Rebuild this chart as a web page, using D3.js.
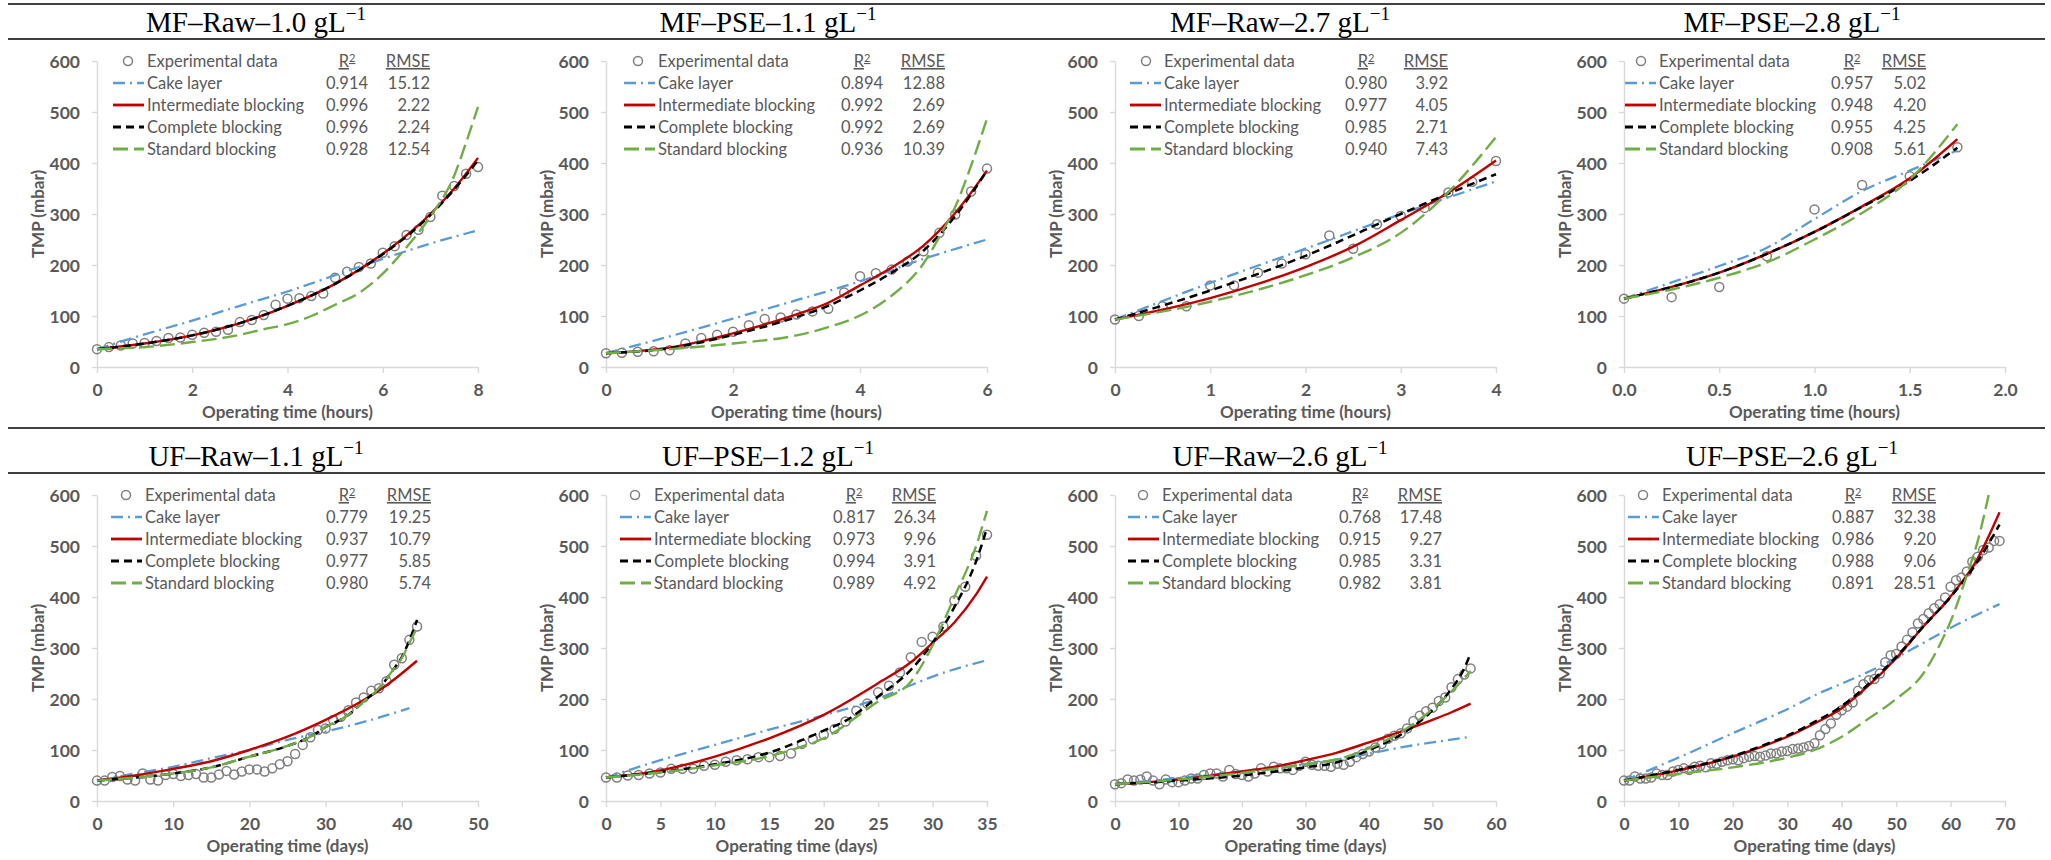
<!DOCTYPE html>
<html>
<head>
<meta charset="utf-8">
<script src="https://cdn.jsdelivr.net/npm/d3@7/dist/d3.min.js"></script>
<style>
  body { margin: 0; background: #fff; }
  svg text { font-family: Lato, "Open Sans", sans-serif; }
</style>
</head>
<body>
<svg id="chart" width="2051" height="860"></svg>
<script>
// ---- data: [time, TMP (mbar)] ----
// MF-Raw-1.0 (hours)
var mfRaw10Exp = [[0,35],[0.25,39],[0.5,42],[0.75,46],[1,47],[1.25,51],[1.5,57],[1.75,58],[2,63],[2.25,67],[2.5,69],[2.75,73],[3,88],[3.25,92],[3.5,102],[3.75,122],[4,134],[4.25,135],[4.5,139],[4.75,144],[5,175],[5.25,187],[5.5,196],[5.75,203],[6,224],[6.25,237],[6.5,259],[6.75,269],[7,294],[7.25,336],[7.5,355],[7.75,379],[8,392]];
var mfRaw10Cake = [[0,35],[1,64],[2,91],[3,120],[4,148],[5,180],[6,212],[7,242],[8,268]];
var mfRaw10Int = [[0,35],[1,46],[2,62],[3,86],[4,120],[5,163],[6,222],[6.5,258],[7,300],[7.5,350],[8,410]];
var mfRaw10Comp = [[0,35],[1,46],[2,62],[3,86],[4,120],[5,163],[6,221],[6.5,256],[7,298],[7.5,348],[8,405]];
var mfRaw10Std = [[0,35],[1,39],[2,49],[3,63],[3.5,74],[4,84],[4.5,100],[5,122],[5.5,145],[6,183],[6.5,235],[7,295],[7.5,375],[7.75,440],[8,510]];
var mfRaw10R2 = ["0.914","0.996","0.996","0.928"];
var mfRaw10Rmse = ["15.12","2.22","2.24","12.54"];

// MF-PSE-1.1 (hours)
var mfPse11Exp = [[0,27],[0.25,28],[0.5,30],[0.75,31],[1,33],[1.25,46],[1.5,57],[1.75,63],[2,69],[2.25,82],[2.5,94],[2.75,97],[3,103],[3.25,109],[3.5,114],[3.75,146],[4,178],[4.25,184],[4.5,191],[4.75,207],[5,227],[5.25,263],[5.5,299],[5.75,344],[6,389]];
var mfPse11Cake = [[0,27],[1,60],[2,95],[3,131],[4,168],[5,212],[6,250]];
var mfPse11Int = [[0,27],[1,38],[2,66],[3,103],[3.5,126],[4,160],[4.5,195],[5,238],[5.5,302],[6,385]];
var mfPse11Comp = [[0,27],[1,37],[2,63],[3,98],[3.5,120],[4,150],[4.5,185],[5,228],[5.5,296],[6,385]];
var mfPse11Std = [[0,27],[1,35],[2,46],[3,62],[3.5,78],[4,101],[4.5,140],[5,203],[5.25,255],[5.5,314],[5.75,395],[6,487]];
var mfPse11R2 = ["0.894","0.992","0.992","0.936"];
var mfPse11Rmse = ["12.88","2.69","2.69","10.39"];

// MF-Raw-2.7 (hours)
var mfRaw27Exp = [[0,93],[0.25,100],[0.5,119],[0.75,119],[1,160],[1.25,160],[1.5,185],[1.75,203],[2,221],[2.25,258],[2.5,232],[2.75,280],[3,296],[3.25,312],[3.5,342],[3.75,363],[4,404]];
var mfRaw27Cake = [[0,93],[1,165],[2,232],[3,300],[4,364]];
var mfRaw27Int = [[0,93],[1,135],[1.5,163],[2,196],[2.5,236],[3,288],[3.5,342],[4,405]];
var mfRaw27Comp = [[0,93],[1,150],[2,218],[3,300],[3.5,340],[4,378]];
var mfRaw27Std = [[0,93],[1,128],[2,180],[2.5,215],[3,263],[3.5,343],[4,451]];
var mfRaw27R2 = ["0.980","0.977","0.985","0.940"];
var mfRaw27Rmse = ["3.92","4.05","2.71","7.43"];

// MF-PSE-2.8 (hours)
var mfPse28Exp = [[0,134],[0.25,137],[0.5,157],[0.75,217],[1,309],[1.25,357],[1.5,374],[1.75,431]];
var mfPse28Cake = [[0,134],[0.25,166],[0.5,198],[0.75,234],[1,290],[1.25,345],[1.5,385],[1.75,425]];
var mfPse28Int = [[0,134],[0.25,157],[0.5,185],[0.75,222],[1,265],[1.25,315],[1.5,370],[1.75,447]];
var mfPse28Comp = [[0,134],[0.25,157],[0.5,185],[0.75,222],[1,265],[1.25,314],[1.5,365],[1.75,430]];
var mfPse28Std = [[0,134],[0.25,152],[0.5,175],[0.75,205],[1,250],[1.25,302],[1.5,368],[1.75,476]];
var mfPse28R2 = ["0.957","0.948","0.955","0.908"];
var mfPse28Rmse = ["5.02","4.20","4.25","5.61"];

// UF-Raw-1.1 (days)
var ufRaw11Exp = [[0,40],[1,40],[2,47],[3,49],[4,42],[5,40],[6,54],[7,42],[8,40],[9,51],[10,53],[11,49],[12,51],[13,53],[14,46],[15,46],[16,52],[17,59],[18,52],[19,58],[20,62],[21,62],[22,58],[23,64],[24,72],[25,78],[26,92],[27,110],[28,125],[29,139],[30,142],[31,159],[32,165],[33,178],[34,193],[35,203],[36,216],[37,221],[38,235],[39,267],[40,280],[41,316],[42,342]];
var ufRaw11Cake = [[0,40],[5,54],[10,67],[15,84],[20,100],[25,120],[30,136],[35,155],[41,182]];
var ufRaw11Int = [[0,40],[5,50],[10,63],[15,78],[20,100],[25,126],[30,159],[35,198],[38,227],[42,275]];
var ufRaw11Comp = [[0,40],[5,46],[10,54],[15,66],[20,87],[25,108],[28,126],[30,145],[33,169],[35,195],[37,221],[39,260],[40,282],[41,315],[42,355]];
var ufRaw11Std = [[0,40],[5,46],[10,54],[15,66],[20,87],[25,108],[28,126],[30,145],[33,169],[35,195],[37,221],[39,260],[40,280],[41,310],[42,340]];
var ufRaw11R2 = ["0.779","0.937","0.977","0.980"];
var ufRaw11Rmse = ["19.25","10.79","5.85","5.74"];

// UF-PSE-1.2 (days)
var ufPse12Exp = [[0,46],[1,46],[2,50],[3,51],[4,54],[5,56],[6,63],[7,63],[8,63],[9,69],[10,71],[11,77],[12,80],[13,82],[14,86],[15,86],[16,88],[17,93],[18,112],[19,121],[20,130],[21,141],[22,156],[23,177],[24,191],[25,213],[26,226],[27,252],[28,282],[29,312],[30,322],[31,342],[32,393],[33,420],[34,481],[35,522]];
var ufPse12Cake = [[0,46],[5,80],[10,110],[15,140],[20,168],[25,201],[28,227],[30,244],[35,276]];
var ufPse12Int = [[0,46],[5,60],[10,87],[15,123],[20,169],[25,231],[28,272],[30,310],[32,350],[34,405],[35,440]];
var ufPse12Comp = [[0,46],[5,57],[10,72],[15,95],[20,138],[22,157],[25,205],[28,257],[30,310],[32,380],[34,470],[35,535]];
var ufPse12Std = [[0,46],[5,56],[10,70],[15,88],[17,100],[20,123],[25,195],[28,234],[30,305],[32,400],[34,500],[35,569]];
var ufPse12R2 = ["0.817","0.973","0.994","0.989"];
var ufPse12Rmse = ["26.34","9.96","3.91","4.92"];

// UF-Raw-2.6 (days)
var ufRaw26Exp = [[0,33],[1,35],[2,42],[3,40],[4,42],[5,48],[6,40],[7,33],[8,42],[9,37],[10,37],[11,40],[12,44],[13,44],[14,51],[15,54],[16,54],[17,48],[18,61],[19,53],[20,51],[21,48],[22,54],[23,64],[24,58],[25,67],[26,64],[27,64],[28,61],[29,69],[30,77],[31,71],[32,69],[33,69],[34,67],[35,73],[36,71],[37,77],[38,86],[39,92],[40,97],[41,105],[42,112],[43,122],[44,128],[45,133],[46,142],[47,157],[48,167],[49,176],[50,183],[51,196],[52,203],[53,223],[54,239],[55,248],[56,260]];
var ufRaw26Cake = [[0,33],[10,45],[20,58],[30,72],[40,93],[45,105],[50,115],[56,126]];
var ufRaw26Int = [[0,33],[10,42],[20,58],[25,67],[30,80],[35,95],[40,115],[45,136],[50,159],[53,174],[56,191]];
var ufRaw26Comp = [[0,33],[10,40],[20,50],[30,66],[35,76],[40,100],[45,130],[50,178],[53,220],[55,260],[56,290]];
var ufRaw26Std = [[0,33],[10,42],[20,55],[30,72],[35,82],[40,103],[45,135],[50,180],[53,215],[56,255]];
var ufRaw26R2 = ["0.768","0.915","0.985","0.982"];
var ufRaw26Rmse = ["17.48","9.27","3.31","3.81"];

// UF-PSE-2.6 (days)
var ufPse26Exp = [[0,40],[1,40],[2,48],[3,44],[4,44],[5,46],[6,54],[7,51],[8,51],[9,58],[10,61],[11,64],[12,61],[13,67],[14,69],[15,66],[16,74],[17,73],[18,77],[19,80],[20,82],[21,80],[22,84],[23,87],[24,88],[25,87],[26,89],[27,93],[28,93],[29,97],[30,98],[31,102],[32,103],[33,105],[34,108],[35,113],[36,129],[37,141],[38,152],[39,169],[40,178],[41,185],[42,193],[43,216],[44,229],[45,237],[46,239],[47,250],[48,272],[49,286],[50,288],[51,303],[52,316],[53,331],[54,348],[55,357],[56,368],[57,378],[58,386],[59,399],[60,420],[61,433],[62,438],[63,450],[64,469],[65,479],[66,492],[67,497],[68,510],[69,510]];
var ufPse26Cake = [[0,40],[10,85],[20,133],[30,180],[36,212],[40,230],[47,264],[55,310],[61,345],[69,386]];
var ufPse26Int = [[0,40],[10,60],[20,87],[25,105],[30,126],[35,152],[40,182],[45,227],[50,280],[55,342],[60,401],[65,476],[69,566]];
var ufPse26Comp = [[0,40],[10,61],[20,88],[25,107],[30,128],[35,155],[40,186],[45,230],[50,282],[55,342],[60,400],[65,470],[69,542]];
var ufPse26Std = [[0,40],[10,53],[20,66],[30,85],[35,100],[40,126],[45,162],[50,200],[55,250],[58,306],[60,352],[63,443],[65,510],[67,600]];
var ufPse26R2 = ["0.887","0.986","0.988","0.891"];
var ufPse26Rmse = ["32.38","9.20","9.06","28.51"];

var modelNames = ["Cake layer", "Intermediate blocking", "Complete blocking", "Standard blocking"];
var yTicks = [0, 100, 200, 300, 400, 500, 600];

var panels = [
  { name: "MF\u2013Raw\u20131.0 gL", exp: mfRaw10Exp, fits: [mfRaw10Cake, mfRaw10Int, mfRaw10Comp, mfRaw10Std], r2: mfRaw10R2, rmse: mfRaw10Rmse, xMax: 8, xTicks: [0,2,4,6,8], unit: "hours", fmt: "d", leg: [31, 50, 250, 333] },
  { name: "MF\u2013PSE\u20131.1 gL", exp: mfPse11Exp, fits: [mfPse11Cake, mfPse11Int, mfPse11Comp, mfPse11Std], r2: mfPse11R2, rmse: mfPse11Rmse, xMax: 6, xTicks: [0,2,4,6], unit: "hours", fmt: "d", leg: [32, 52, 256, 339] },
  { name: "MF\u2013Raw\u20132.7 gL", exp: mfRaw27Exp, fits: [mfRaw27Cake, mfRaw27Int, mfRaw27Comp, mfRaw27Std], r2: mfRaw27R2, rmse: mfRaw27Rmse, xMax: 4, xTicks: [0,1,2,3,4], unit: "hours", fmt: "d", leg: [31, 49, 251, 333] },
  { name: "MF\u2013PSE\u20132.8 gL", exp: mfPse28Exp, fits: [mfPse28Cake, mfPse28Int, mfPse28Comp, mfPse28Std], r2: mfPse28R2, rmse: mfPse28Rmse, xMax: 2, xTicks: [0,0.5,1,1.5,2], unit: "hours", fmt: ".1f", leg: [17, 35, 228, 302] },
  { name: "UF\u2013Raw\u20131.1 gL", exp: ufRaw11Exp, fits: [ufRaw11Cake, ufRaw11Int, ufRaw11Comp, ufRaw11Std], r2: ufRaw11R2, rmse: ufRaw11Rmse, xMax: 50, xTicks: [0,10,20,30,40,50], unit: "days", fmt: "d", leg: [29, 48, 250, 334] },
  { name: "UF\u2013PSE\u20131.2 gL", exp: ufPse12Exp, fits: [ufPse12Cake, ufPse12Int, ufPse12Comp, ufPse12Std], r2: ufPse12R2, rmse: ufPse12Rmse, xMax: 35, xTicks: [0,5,10,15,20,25,30,35], unit: "days", fmt: "d", leg: [29, 48, 248, 330] },
  { name: "UF\u2013Raw\u20132.6 gL", exp: ufRaw26Exp, fits: [ufRaw26Cake, ufRaw26Int, ufRaw26Comp, ufRaw26Std], r2: ufRaw26R2, rmse: ufRaw26Rmse, xMax: 60, xTicks: [0,10,20,30,40,50,60], unit: "days", fmt: "d", leg: [28, 47, 245, 327] },
  { name: "UF\u2013PSE\u20132.6 gL", exp: ufPse26Exp, fits: [ufPse26Cake, ufPse26Int, ufPse26Comp, ufPse26Std], r2: ufPse26R2, rmse: ufPse26Rmse, xMax: 70, xTicks: [0,10,20,30,40,50,60,70], unit: "days", fmt: "d", leg: [19, 38, 229, 312] }
];

// line styles for the four models
var styles = [
  { color: "#5B9BD5", dash: "12,5,2,5", width: 2.3 },
  { color: "#C00000", dash: null, width: 2.4 },
  { color: "#000000", dash: "8,5", width: 2.5 },
  { color: "#70AD47", dash: "15,6", width: 2.4 }
];

var svg = d3.select("#chart");
var gray = "#595959";

// horizontal rules of the table layout
[4, 39, 428, 473].forEach(function (y) {
  svg.append("line").attr("x1", 8).attr("x2", 2045).attr("y1", y).attr("y2", y)
    .attr("stroke", "#000").attr("stroke-width", 1.5);
});

var plotW = 381;

panels.forEach(function (p, i) {
  var col = i % 4, row = Math.floor(i / 4);
  var left = 97 + 509 * col;
  var yTop = row === 0 ? 61 : 495;
  var yBot = row === 0 ? 367 : 801;

  // title
  var title = svg.append("text")
    .attr("x", 256 + 512 * col)
    .attr("y", row === 0 ? 32 : 466)
    .attr("text-anchor", "middle")
    .style("font-family", "'Liberation Serif', 'Times New Roman', serif")
    .style("font-size", "29px")
    .attr("fill", "#000");
  title.append("tspan").text(p.name);
  title.append("tspan").attr("dy", -12).style("font-size", "19px").text("\u22121");

  var x = d3.scaleLinear().domain([0, p.xMax]).range([left, left + plotW]);
  var y = d3.scaleLinear().domain([0, 600]).range([yBot, yTop]);

  var g = svg.append("g");

  // axes
  var xAxis = g.append("g").attr("transform", "translate(0," + yBot + ")")
    .call(d3.axisBottom(x).tickValues(p.xTicks).tickSizeInner(6).tickSizeOuter(0)
      .tickFormat(d3.format(p.fmt)));
  var yAxis = g.append("g").attr("transform", "translate(" + left + ",0)")
    .call(d3.axisLeft(y).tickValues(yTicks).tickSizeInner(5).tickSizeOuter(0));

  [xAxis, yAxis].forEach(function (a) {
    a.select(".domain").attr("stroke", "#d9d9d9").attr("stroke-width", 1.4);
    a.selectAll(".tick line").attr("stroke", "#d9d9d9").attr("stroke-width", 1.4);
    a.selectAll("text").attr("fill", gray).style("font-size", "17.5px").style("font-weight", "bold");
  });
  xAxis.selectAll("text").attr("y", 23).attr("dy", "0.36em");
  yAxis.selectAll("text").attr("x", -17).attr("dy", "0.36em");

  // axis titles
  g.append("text").attr("x", left + plotW / 2).attr("y", yBot + 45).attr("dy", "0.36em")
    .attr("text-anchor", "middle").attr("fill", gray)
    .style("font-size", "17px").style("font-weight", "bold")
    .text("Operating time (" + p.unit + ")");
  g.append("text").attr("transform", "translate(" + (left - 59) + "," + ((yTop + yBot) / 2) + ") rotate(-90)")
    .attr("dy", "0.36em").attr("text-anchor", "middle").attr("fill", gray)
    .style("font-size", "17px").style("font-weight", "bold")
    .text("TMP (mbar)");

  // experimental points
  g.selectAll(".pt").data(p.exp).enter().append("circle")
    .attr("cx", function (d) { return x(d[0]); })
    .attr("cy", function (d) { return y(d[1]); })
    .attr("r", 4.5)
    .attr("fill", "none")
    .attr("stroke", "#7f7f7f")
    .attr("stroke-width", 1.5);

  // model curves
  var line = d3.line()
    .x(function (d) { return x(d[0]); })
    .y(function (d) { return y(d[1]); })
    .curve(d3.curveMonotoneX);
  p.fits.forEach(function (f, k) {
    g.append("path").datum(f).attr("d", line)
      .attr("fill", "none")
      .attr("stroke", styles[k].color)
      .attr("stroke-width", styles[k].width)
      .attr("stroke-dasharray", styles[k].dash);
  });

  // legend
  var mx = left + p.leg[0], tx = left + p.leg[1], r2x = left + p.leg[2], rmx = left + p.leg[3];
  var leg = g.append("g").style("font-size", "16.5px").attr("fill", gray);
  leg.append("circle").attr("cx", mx).attr("cy", yTop).attr("r", 4.5)
    .attr("fill", "none").attr("stroke", "#7f7f7f").attr("stroke-width", 1.5);
  leg.append("text").attr("x", tx).attr("y", yTop).attr("dy", "0.36em").text("Experimental data");
  var rh = leg.append("text").attr("x", r2x).attr("y", yTop).attr("dy", "0.36em")
    .attr("text-anchor", "middle").style("text-decoration", "underline");
  rh.append("tspan").text("R");
  rh.append("tspan").attr("dy", "-0.45em").style("font-size", "11px").text("2");
  leg.append("text").attr("x", rmx).attr("y", yTop).attr("dy", "0.36em")
    .attr("text-anchor", "end").style("text-decoration", "underline").text("RMSE");

  modelNames.forEach(function (nm, k) {
    var ly = yTop + 22 * (k + 1);
    leg.append("line").attr("x1", tx - 34).attr("x2", tx - 3).attr("y1", ly).attr("y2", ly)
      .attr("stroke", styles[k].color).attr("stroke-width", styles[k].width + 0.4)
      .attr("stroke-dasharray", styles[k].dash);
    leg.append("text").attr("x", tx).attr("y", ly).attr("dy", "0.36em").text(nm);
    leg.append("text").attr("x", r2x).attr("y", ly).attr("dy", "0.36em")
      .attr("text-anchor", "middle").text(p.r2[k]);
    leg.append("text").attr("x", rmx).attr("y", ly).attr("dy", "0.36em")
      .attr("text-anchor", "end").text(p.rmse[k]);
  });
});
</script>
</body>
</html>
